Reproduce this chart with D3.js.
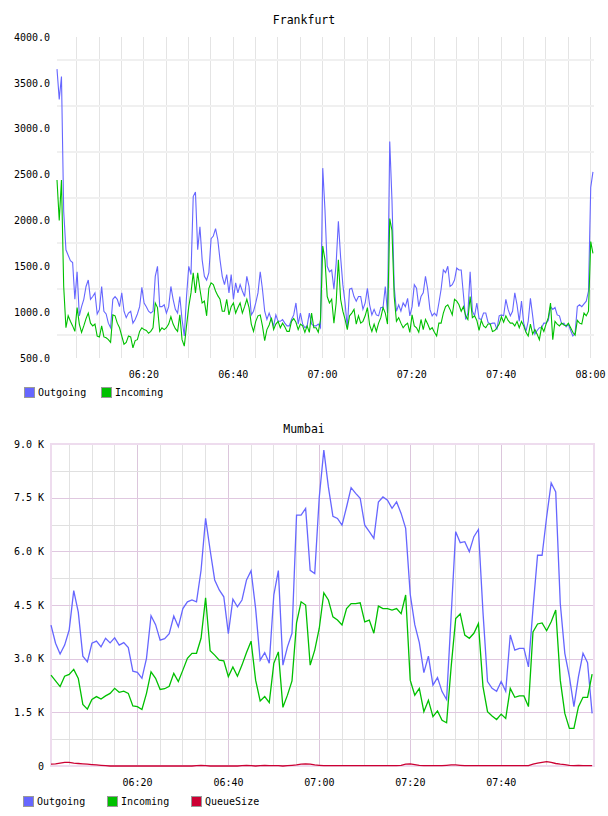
<!DOCTYPE html>
<html>
<head>
<meta charset="utf-8">
<script src="https://cdn.jsdelivr.net/npm/d3@7"></script>
<style>
  body { margin: 0; background: #fff; }
  text { font-family: "DejaVu Sans Mono", monospace; fill: #000; }
</style>
</head>
<body>
<svg id="chart" width="608" height="816"></svg>
<script>
// ---- data: Frankfurt, one sample every 30 s starting 06:00:40 ----
var fOutgoing = [3650,3320,3570,2100,1680,1620,1560,1540,1140,1440,
  960,1060,1140,1280,1350,1140,1170,1210,980,1030,
  1280,1010,980,880,830,1140,1170,1140,1060,1210,
  1010,940,990,1010,880,920,980,1060,1270,1100,
  1060,1010,990,1010,1390,1500,1060,1060,1080,990,
  1060,1280,1140,1030,990,1170,920,740,1170,1500,
  1410,2260,2310,1680,1930,1570,1390,1350,1430,1800,
  1830,1910,1790,1570,1390,1300,1410,1210,1410,1140,
  1320,1210,1300,1230,1170,1390,1280,970,1010,1100,
  1210,1440,1250,1010,920,990,920,850,970,900,
  900,920,880,850,850,920,970,1100,870,990,
  870,830,850,990,870,850,850,870,830,2570,
  2110,1500,1440,1460,1250,1530,1990,1600,1300,1100,
  830,1250,1260,1170,1120,1170,1170,1030,1100,1260,
  1080,970,1030,970,960,1050,1050,1280,990,2860,
  2220,1280,1010,1080,1010,1100,1060,1150,960,1060,
  1300,1260,1060,1170,1210,1390,1250,1030,960,990,
  960,1100,1250,1460,1430,1500,1280,1300,1350,1480,
  1460,1460,1190,920,990,1440,1010,960,1100,930,
  920,990,990,890,870,880,880,810,960,970,
  960,1140,1030,960,1010,1210,1080,900,1120,880,
  790,900,1150,960,760,800,830,830,880,880,
  910,1060,1030,1050,970,960,870,880,840,870,
  800,740,770,1060,1080,1060,1090,1120,1230,2360,
  2530];
var fIncoming = [2440,2000,2440,1280,830,960,900,850,790,1050,
  870,780,850,930,990,880,850,870,740,730,
  850,730,720,700,670,970,960,880,830,740,
  650,670,740,730,610,690,700,790,830,810,
  800,770,790,830,1100,1050,790,830,810,830,
  870,950,870,820,790,970,700,630,850,1060,
  1210,1430,1210,1430,1250,1100,1120,960,1260,1320,
  1300,1230,1180,1140,1010,1010,1140,970,1060,1100,
  990,1050,1100,990,1060,1140,1050,870,790,900,
  960,970,850,690,810,860,940,810,870,900,
  830,880,840,790,790,900,930,890,810,870,
  850,780,850,780,990,830,830,780,920,1720,
  1570,1170,1100,1140,880,1100,1570,1140,1010,920,
  810,960,990,1030,870,960,880,900,960,1050,
  860,790,870,790,880,940,1050,990,870,2020,
  1890,1170,900,940,880,830,860,880,780,970,
  850,830,780,920,810,920,870,810,830,780,
  740,880,880,990,1060,1080,1030,970,1140,1120,
  1080,1010,1060,960,920,1170,940,960,910,800,
  910,850,830,870,870,790,800,830,870,950,
  890,960,910,880,880,850,900,830,900,850,
  780,740,870,760,810,760,700,840,790,870,
  940,1100,700,900,870,850,880,860,850,880,
  830,780,750,910,880,870,990,960,1010,1770,
  1640];

// ---- data: Mumbai, one sample every minute starting 06:01:05 ----
var mOutgoing = [3940,3430,3130,3380,3800,4900,4300,3070,2910,3430,
  3490,3330,3570,3440,3580,3380,3450,3310,2650,2620,
  2450,3010,4200,3950,3520,3560,3700,4190,3890,4400,
  4590,4640,4590,5470,6920,6030,5200,4920,4730,3700,
  4660,4450,4640,5200,5460,4400,2960,3170,2870,4780,
  5460,2820,3330,3710,7010,7010,7200,5470,5380,7520,
  8830,7800,6980,6920,6730,7240,7780,7620,7480,6730,
  6550,6360,7380,7520,7430,7200,7380,7060,6640,4800,
  3950,3450,2610,3070,2260,2470,2080,1860,4200,6550,
  6240,6270,5990,6410,6610,4300,2360,2170,2090,2360,
  2090,3660,3240,3290,3290,2770,4400,5890,5890,6960,
  7910,7660,4540,3150,2500,1660,2500,3150,2890,1470];
var mIncoming = [2540,2380,2220,2510,2560,2700,2450,1720,1590,1860,
  1940,1870,1960,2030,2170,2060,2090,2030,1680,1660,
  1580,2030,2630,2450,2140,2160,2230,2590,2360,2680,
  3010,3150,3150,3570,4700,3220,3100,2960,2940,2500,
  2770,2510,2820,3170,3490,2400,1820,1940,1770,2870,
  3190,1640,1980,2380,4000,4590,4500,2820,3240,3850,
  4840,4640,4170,4080,3940,4400,4540,4540,4560,4030,
  4080,3710,4470,4400,4400,4360,4400,4260,4780,2400,
  1980,2170,1520,1840,1380,1540,1280,1210,2770,4120,
  4250,3660,3570,3710,3980,2220,1520,1400,1300,1450,
  1330,2170,1920,1960,1960,1660,3750,3970,4000,3780,
  4030,4360,2400,1470,1050,1050,1660,1920,1920,2570];
var mQueue = [50,60,80,100,100,80,70,60,50,40,
  30,20,10,0,0,0,0,0,0,0,
  0,0,0,0,0,0,0,0,0,0,
  0,0,10,20,10,0,0,0,0,0,
  0,0,10,20,10,0,10,20,10,10,
  10,0,10,20,30,50,60,50,30,20,
  10,10,10,10,10,10,10,10,10,10,
  10,10,10,10,10,10,10,20,50,60,
  40,20,10,10,10,10,10,20,30,30,
  20,10,10,10,10,10,10,10,10,10,
  10,10,10,10,10,10,50,80,100,120,
  100,70,50,40,20,10,20,10,10,10];

var fSeries = ["Outgoing", "Incoming"];
var mSeries = ["Outgoing", "Incoming", "QueueSize"];
var fTimeTicks = ["06:20", "06:40", "07:00", "07:20", "07:40", "08:00"];
var mTimeTicks = ["06:20", "06:40", "07:00", "07:20", "07:40"];
var fValueTicks = [500, 1000, 1500, 2000, 2500, 3000, 3500, 4000];
var mValueTicks = [0, 1500, 3000, 4500, 6000, 7500, 9000];

var colors = { Outgoing: "#6666ff", Incoming: "#00c000", QueueSize: "#cc0033" };

function at(h, m, s) { return new Date(2020, 0, 1, h, m, s || 0); }
function hm(str) { var p = str.split(":"); return at(+p[0], +p[1]); }

var svg = d3.select("#chart");

// ================= Frankfurt =================
var fStart = at(6, 0, 40);
var fx = d3.scaleTime().domain([fStart, at(8, 0, 54)]).range([57, 594]);
var fy = d3.scaleLinear().domain([500, 4000]).range([358, 37]);
var fTimes = fOutgoing.map(function(d, i) { return new Date(+fStart + i * 30000); });

var fg = svg.append("g");
// vertical grid every 5 minutes
fg.selectAll(".vg").data(d3.timeMinute.every(5).range(fx.domain()[0], fx.domain()[1]))
  .enter().append("line")
  .attr("x1", function(d) { return Math.round(fx(d)) + 0.5; })
  .attr("x2", function(d) { return Math.round(fx(d)) + 0.5; })
  .attr("y1", 37).attr("y2", 358)
  .attr("stroke", "#e4e4e4").attr("stroke-width", 1);
// horizontal grid sits half a step off the labels
fg.selectAll(".hg").data(fValueTicks.slice(0, -1).map(function(v) { return v + 250; }))
  .enter().append("line")
  .attr("x1", 57).attr("x2", 594)
  .attr("y1", function(d) { return Math.round(fy(d)); })
  .attr("y2", function(d) { return Math.round(fy(d)); })
  .attr("stroke", "#f0f0f0").attr("stroke-width", 2);

var fLine = function(vals) {
  return d3.line()
    .x(function(d, i) { return fx(fTimes[i]); })
    .y(function(d) { return fy(d); })(vals);
};
fg.append("path").attr("d", fLine(fOutgoing)).attr("fill", "none")
  .attr("stroke", colors.Outgoing).attr("stroke-width", 1.1);
fg.append("path").attr("d", fLine(fIncoming)).attr("fill", "none")
  .attr("stroke", colors.Incoming).attr("stroke-width", 1.1);

var fyAxis = fg.append("g").attr("transform", "translate(57,0)")
  .call(d3.axisLeft(fy).tickValues(fValueTicks).tickSize(0).tickPadding(7)
    .tickFormat(d3.format(".1f")));
var fxAxis = fg.append("g").attr("transform", "translate(0,358)")
  .call(d3.axisBottom(fx).tickValues(fTimeTicks.map(hm)).tickSize(0).tickPadding(12.5)
    .tickFormat(d3.timeFormat("%H:%M")));

fg.append("text").attr("x", 304).attr("y", 20).attr("dy", "0.35em")
  .attr("text-anchor", "middle").style("font-size", "11.5px").text("Frankfurt");

// ================= Mumbai =================
var mStart = at(6, 1, 5);
var mx = d3.scaleTime().domain([mStart, at(8, 0, 30)]).range([51, 594]);
var my = d3.scaleLinear().domain([0, 9000]).range([766, 444]);
var mTimes = mOutgoing.map(function(d, i) { return new Date(+mStart + i * 60000); });

var mg = svg.append("g");
var fiveMin = d3.timeMinute.every(5).range(mx.domain()[0], mx.domain()[1])
  .filter(function(d) { return mx(d) < 590; });
mg.selectAll(".vg").data(fiveMin).enter().append("line")
  .attr("x1", function(d) { return Math.round(mx(d)) + 0.5; })
  .attr("x2", function(d) { return Math.round(mx(d)) + 0.5; })
  .attr("y1", 444).attr("y2", 766)
  .attr("stroke", function(d) { return d.getMinutes() % 20 === 0 ? "#dcc6dc" : "#e2e2e2"; })
  .attr("stroke-width", 1);
var hLevels = [];
mValueTicks.forEach(function(v, i) {
  if (i > 0 && i < mValueTicks.length - 1) hLevels.push({ v: v, major: true });
  if (i < mValueTicks.length - 1) hLevels.push({ v: v + 750, major: false });
});
mg.selectAll(".hg").data(hLevels).enter().append("line")
  .attr("x1", 51).attr("x2", 594)
  .attr("y1", function(d) { return Math.round(my(d.v)) + 0.5; })
  .attr("y2", function(d) { return Math.round(my(d.v)) + 0.5; })
  .attr("stroke", function(d) { return d.major ? "#e0c8e0" : "#e0e0e0"; })
  .attr("stroke-width", 1);
mg.append("rect").attr("x", 51).attr("y", 444).attr("width", 543).attr("height", 322)
  .attr("fill", "none").attr("stroke", "#eedcee").attr("stroke-width", 2);

var mLine = function(vals) {
  return d3.line()
    .x(function(d, i) { return mx(mTimes[i]); })
    .y(function(d) { return my(d); })(vals);
};
[["Outgoing", mOutgoing], ["Incoming", mIncoming], ["QueueSize", mQueue]].forEach(function(s) {
  mg.append("path").attr("d", mLine(s[1])).attr("fill", "none")
    .attr("stroke", colors[s[0]]).attr("stroke-width", 1.3);
});

mg.append("g").attr("transform", "translate(51,0)")
  .call(d3.axisLeft(my).tickValues(mValueTicks).tickSize(0).tickPadding(7)
    .tickFormat(function(d) { return d === 0 ? "0" : d3.format(".1f")(d / 1000) + " K"; }));
mg.append("g").attr("transform", "translate(0,766)")
  .call(d3.axisBottom(mx).tickValues(mTimeTicks.map(hm)).tickSize(0).tickPadding(12.5)
    .tickFormat(d3.timeFormat("%H:%M")));

mg.append("text").attr("x", 304).attr("y", 429).attr("dy", "0.35em")
  .attr("text-anchor", "middle").style("font-size", "11.5px").text("Mumbai");

svg.selectAll(".domain").remove();
svg.selectAll(".tick text").style("font-family", "DejaVu Sans Mono").style("font-size", "10px")
  .attr("fill", "#000");

// ================= legends =================
function legend(names, xs, y) {
  var lg = svg.append("g");
  var item = lg.selectAll("g").data(names).enter().append("g")
    .attr("transform", function(d, i) { return "translate(" + xs[i] + "," + y + ")"; });
  item.append("rect").attr("x", 0.5).attr("y", -4.5).attr("width", 10).attr("height", 10)
    .attr("fill", function(d) { return colors[d]; }).attr("stroke", "#999");
  item.append("text").attr("x", 14).attr("y", 0).attr("dy", "0.35em")
    .style("font-size", "10px").text(function(d) { return d; });
}
legend(fSeries, [24, 101], 392);
legend(mSeries, [23, 107, 191], 801);
</script>
</body>
</html>
